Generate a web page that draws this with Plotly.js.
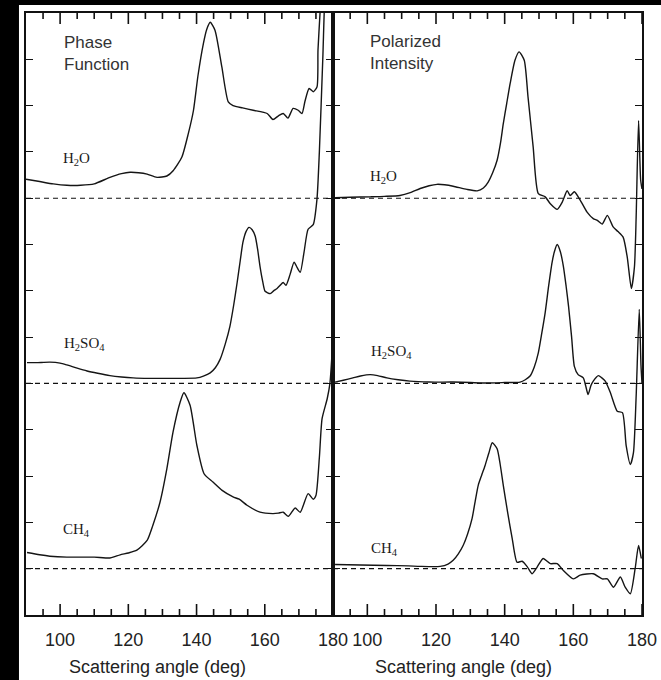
<!DOCTYPE html>
<html>
<head>
<meta charset="utf-8">
<script src="https://cdn.plot.ly/plotly-3.0.1.min.js"></script>
<style>html,body{margin:0;padding:0;background:#000;}#chart{width:661px;height:680px;}</style>
</head>
<body>
<div id="chart"></div>
<script>
// ---- Data (values relative to each curve's own dashed baseline) ----
const species = ["H<sub>2</sub>O", "H<sub>2</sub>SO<sub>4</sub>", "CH<sub>4</sub>"];
const baselineOffsets = [8, 4, 0];
const xTickVals = [100, 120, 140, 160, 180];
const xMinorStep = 5;
const panelTitles = ["Phase<br>Function", "Polarized<br>Intensity"];
const xTitle = "Scattering angle (deg)";

// Phase function
const pfH2Oang = [90,94,98,102,106,110,114.6,118,120.5,123,125.5,128.4,131.3,133.2,135.7,137.6,139.1,140.4,142,143,144,145.4,147.4,149.3,150.7,153.5,156.6,160.7,162.4,164,165.4,166.8,168.3,169.8,170.9,171.8,173,174.2,175.3,175.6,176.2,177,180];
const pfH2O    = [0.41,0.36,0.31,0.28,0.28,0.31,0.45,0.53,0.56,0.55,0.52,0.45,0.48,0.6,0.89,1.4,1.9,2.64,3.34,3.65,3.8,3.63,2.84,2.08,2.0,1.95,1.9,1.83,1.7,1.78,1.83,1.73,1.94,1.9,1.83,2.1,2.37,2.3,2.4,3.2,4.0,5.0,6.0];

const pfH2SO4ang = [90.3,93,97,100,102,105,107.9,111,114.6,118,121.4,126,131.3,136,140.1,142,144,145.5,146.9,148.4,149.8,150.9,151.9,152.8,153.6,154.5,155.4,156.3,157.2,157.9,158.6,159.4,160.1,161.6,162.6,163.6,164.5,165.4,166.2,167.4,168.6,169.5,170.4,171.5,172.7,174.2,175.3,176,177,178,180];
const pfH2SO4    = [0.45,0.45,0.46,0.44,0.40,0.33,0.27,0.22,0.17,0.14,0.12,0.11,0.11,0.11,0.12,0.16,0.23,0.34,0.52,0.85,1.24,1.7,2.18,2.65,3.05,3.28,3.37,3.32,3.18,2.9,2.53,2.2,1.99,1.94,2.0,2.05,2.12,2.18,2.12,2.35,2.62,2.5,2.40,2.83,3.33,3.43,3.98,5.0,7.0,9.0,10.0];

const pfCH4ang = [90.3,94,97,102,106.7,110,114.6,116,117.6,120,122.5,125.5,127.2,129.3,131.3,133.1,135.2,136.3,138.1,140.1,142.2,144.8,147.5,150.7,152.5,154.8,158.6,162.4,164,165.4,166.9,168.9,170.4,172.7,174.2,175,176,176.8,178.3,179.1,180];
const pfCH4    = [0.35,0.3,0.27,0.25,0.25,0.25,0.23,0.26,0.30,0.34,0.40,0.61,0.94,1.44,2.16,2.95,3.6,3.8,3.53,2.66,2.05,1.87,1.69,1.55,1.5,1.37,1.22,1.19,1.2,1.22,1.13,1.31,1.22,1.62,1.50,1.58,2.4,3.24,3.67,4.0,5.0];

// Polarized intensity
const piH2Oang = [90.6,95,100.8,105,109.5,112.5,115.4,118,120.3,122.5,125,129,132,133.8,135.2,136.5,137.8,138.8,139.6,140.6,141.6,143,144.2,145.7,146.8,148.3,149.8,151.8,153.3,155.3,156.8,158.2,159.1,160.3,162,164,165.8,167,168.4,169.9,171.6,173,174.5,175.7,176.9,177.8,178.3,179,179.6,180];
const piH2O    = [0.01,0.02,0.03,0.04,0.06,0.12,0.21,0.27,0.30,0.29,0.26,0.19,0.16,0.22,0.35,0.55,0.82,1.2,1.61,2.05,2.48,2.98,3.16,2.98,2.19,1.11,0.1,0.03,-0.12,-0.24,-0.08,0.16,0.06,0.14,-0.04,-0.3,-0.44,-0.48,-0.56,-0.37,-0.62,-0.72,-0.84,-1.27,-1.95,-1.48,-0.40,1.68,0.4,0.2];

const piH2SO4ang = [90.6,93,95.8,98,100.8,103,105.7,109,112.4,118,125,130,134.9,140,144.5,146,147.4,148.6,149.8,150.8,151.8,152.8,153.8,154.5,155.3,156.2,157.1,157.9,158.6,159.5,160.3,161.4,162.9,163.6,164.3,165.1,165.8,167.3,168.3,169.3,170.8,172.8,174.3,175.4,176.6,177.5,178.3,179.2,179.7,180];
const piH2SO4    = [0.03,0.07,0.12,0.16,0.19,0.17,0.12,0.08,0.05,0.03,0.03,0.02,0.01,0.02,0.03,0.08,0.16,0.35,0.66,1.08,1.53,2.1,2.61,2.85,3.0,2.85,2.53,2.1,1.67,1.0,0.37,0.19,0.12,-0.05,-0.24,-0.05,0.05,0.17,0.12,0.05,-0.2,-0.6,-0.63,-1.35,-1.75,-1.5,-0.27,1.6,0.4,0.0];

const piCH4ang = [90.6,98,105.7,112,115.4,121.2,123.5,125,126.5,127.9,129.2,130.5,131.4,132.3,133.3,134.3,135.4,136.4,137.8,138.7,139.6,140.9,142.2,143.6,145.1,146.6,148,149.5,151.2,153.3,155.3,157.1,160,162,165.8,168.4,169.9,171.7,173.7,175.1,176.6,178,179,179.8];
const piCH4    = [0.09,0.08,0.07,0.06,0.05,0.05,0.1,0.18,0.32,0.5,0.75,1.08,1.45,1.8,2.02,2.23,2.5,2.72,2.59,2.25,1.8,1.2,0.65,0.14,0.16,0.04,-0.11,0.04,0.22,0.11,0.11,-0.04,-0.22,-0.14,-0.11,-0.22,-0.22,-0.4,-0.18,-0.4,-0.54,0.0,0.5,0.22];

// ---- Build ----
const panels = [
  {xa: "x",  ya: "y",  angs: [pfH2Oang, pfH2SO4ang, pfCH4ang], vals: [pfH2O, pfH2SO4, pfCH4]},
  {xa: "x2", ya: "y2", angs: [piH2Oang, piH2SO4ang, piCH4ang], vals: [piH2O, piH2SO4, piCH4]}
];
const xRange = [90, 180];
const yRange = [-1, 12];
const W = 661, H = 680;
const margin = {l: 26, r: 19, t: 13, b: 65};
const unitsPerPx = (yRange[1] - yRange[0]) / (H - margin.t - margin.b);

const lineColor = "#151515";
const traces = [];
const shapes = [];

// white page area behind the figure
shapes.push({
  type: "rect", xref: "paper", yref: "paper", layer: "below",
  x0: -0.0114, x1: 1.05, y0: -0.2, y1: 1.0133,
  fillcolor: "#ffffff", line: {width: 0}
});

panels.forEach(p => {
  for (let i = 0; i < 3; i++) {
    traces.push({
      type: "scatter", mode: "lines",
      x: p.angs[i],
      y: p.vals[i].map(v => v + baselineOffsets[i]),
      xaxis: p.xa, yaxis: p.ya,
      line: {color: lineColor, width: 1.4, shape: "spline", smoothing: 0.6},
      hoverinfo: "skip", showlegend: false
    });
    shapes.push({
      type: "line", xref: p.xa, yref: p.ya,
      x0: xRange[0], x1: xRange[1], y0: baselineOffsets[i], y1: baselineOffsets[i],
      line: {color: "#111", width: 1.2, dash: "5px,4px"}
    });
  }
  // x-axis tick marks (inside, bottom and top) drawn on the axis scale
  const tx = [], ty = [];
  for (let v = xRange[0] + xMinorStep; v <= xRange[1]; v += xMinorStep) {
    const len = (xTickVals.includes(v) ? 11 : 6) * unitsPerPx;
    tx.push(v, v, null, v, v, null);
    ty.push(yRange[0], yRange[0] + len, null, yRange[1], yRange[1] - len, null);
  }
  traces.push({
    type: "scatter", mode: "lines", x: tx, y: ty, xaxis: p.xa, yaxis: p.ya,
    line: {color: "#111", width: 1.6}, connectgaps: false,
    hoverinfo: "skip", showlegend: false
  });
});

const labelPos = [
  [[100.26, 8.84], [100.56, 4.85], [100.26, 0.83]],
  [[100.2, 8.46], [100.5, 4.67], [100.5, 0.42]]
];
const titlePos = [[100.56, 11.12], [100.2, 11.15]];
const annotations = [];
panels.forEach((p, k) => {
  for (let i = 0; i < 3; i++) {
    annotations.push({
      xref: p.xa, yref: p.ya, x: labelPos[k][i][0], y: labelPos[k][i][1],
      text: species[i], showarrow: false, xanchor: "left", yanchor: "middle",
      font: {family: "Liberation Serif, Times New Roman, serif", size: 15, color: "#1a1a1a"}
    });
  }
  annotations.push({
    xref: p.xa, yref: p.ya, x: titlePos[k][0], y: titlePos[k][1],
    text: panelTitles[k], showarrow: false, xanchor: "left", yanchor: "middle", align: "left",
    font: {family: "Liberation Sans, Arial, sans-serif", size: 17, color: "#333"}
  });
});
[0.2127, 0.711].forEach(px => {
  annotations.push({
    xref: "paper", yref: "paper", x: px, y: -0.0864, text: xTitle, showarrow: false,
    xanchor: "center", yanchor: "middle",
    font: {family: "Liberation Sans, Arial, sans-serif", size: 18, color: "#222"}
  });
});

function xAxis(domain, anchor) {
  return {
    domain: domain, anchor: anchor, range: xRange,
    tickmode: "array", tickvals: xTickVals, ticktext: xTickVals.map(String),
    ticks: "", ticklabelstandoff: 8,
    showline: true, linecolor: "#111", linewidth: 1.5, mirror: true,
    showgrid: false, zeroline: false,
    tickfont: {family: "Liberation Sans, Arial, sans-serif", size: 18, color: "#222"}
  };
}
function yAxis(anchor) {
  return {
    anchor: anchor, range: yRange, tickmode: "linear", tick0: 0, dtick: 1,
    ticks: "inside", ticklen: 7, tickwidth: 1.2, tickcolor: "#111",
    showticklabels: false, showline: true, linecolor: "#111", linewidth: 1.5, mirror: "ticks",
    showgrid: false, zeroline: false
  };
}

const split = 307 / 616;
const layout = {
  width: W, height: H,
  margin: margin,
  paper_bgcolor: "#000000", plot_bgcolor: "#ffffff",
  xaxis: xAxis([0, split], "y"),
  xaxis2: xAxis([split, 1], "y2"),
  yaxis: yAxis("x"),
  yaxis2: yAxis("x2"),
  shapes: shapes, annotations: annotations,
  showlegend: false
};

Plotly.newPlot("chart", traces, layout, {displayModeBar: false});
</script>
</body>
</html>
